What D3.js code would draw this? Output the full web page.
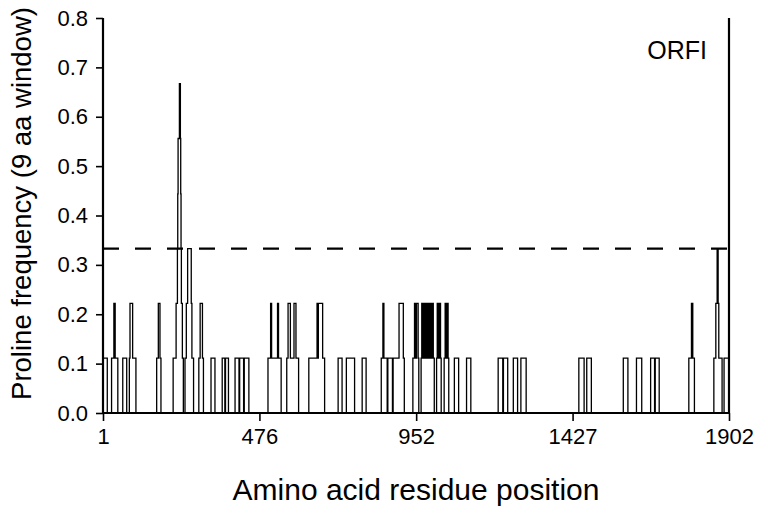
<!DOCTYPE html>
<html>
<head>
<meta charset="utf-8">
<script src="https://cdn.jsdelivr.net/npm/d3@7/dist/d3.min.js"></script>
<style>
  html, body { margin: 0; padding: 0; background: #fff; }
  svg { display: block; font-family: "Liberation Sans", Arial, sans-serif; }
</style>
</head>
<body>
<svg id="chart" width="759" height="515"></svg>
<script>
// ---- data ----
const xTickValues = [1, 476, 952, 1427, 1902];
const yTickValues = [0, 0.1, 0.2, 0.3, 0.4, 0.5, 0.6, 0.7, 0.8];
const threshold = 0.333;
const label = "ORFI";
// residue position where the value starts, and the proline frequency from there on
const stepPos = [
  1, 14, 27, 34, 38, 46, 61, 73, 81, 83, 91, 101,
  164, 169, 174, 177, 214, 223, 227, 228, 229, 233, 236, 237, 238, 239, 242, 245,
  250, 254, 258, 269, 271, 276, 292, 296, 303, 306, 329, 341,
  363, 371, 373, 382, 402, 414, 416, 428, 430, 444,
  502, 510, 513, 531, 534, 542, 559, 563, 570, 581, 587, 595,
  626, 651, 653, 655, 668, 674, 715, 727, 740, 765, 788, 800,
  846, 851, 854, 864, 866, 880, 882, 900, 913, 916,
  942, 947, 950, 953, 958, 960, 967, 969, 972, 974, 977, 979, 982, 984, 987, 989,
  992, 995, 998, 1000, 1004, 1007, 1014, 1016, 1020, 1022, 1026, 1028,
  1037, 1040, 1044, 1046, 1049, 1051, 1068, 1081, 1105, 1118,
  1201, 1215, 1217, 1230, 1247, 1260, 1270, 1286, 1446, 1462, 1470, 1484,
  1581, 1595, 1621, 1637, 1664, 1676, 1678, 1690,
  1780, 1788, 1792, 1797, 1856, 1862, 1866, 1869, 1871, 1881, 1887, 1902
];
const stepFreq = [
  0.111, 0, 0.111, 0.222, 0.111, 0, 0.111, 0, 0.111, 0.222, 0.111, 0,
  0.111, 0.222, 0.111, 0, 0.111, 0.222, 0.333, 0.444, 0.556, 0.667, 0.556, 0.444, 0.333, 0.222, 0.111, 0,
  0.111, 0.222, 0.333, 0.222, 0.111, 0, 0.111, 0.222, 0.111, 0, 0.111, 0,
  0.111, 0, 0.111, 0, 0.111, 0, 0.111, 0, 0.111, 0,
  0.111, 0.222, 0.111, 0.222, 0.111, 0, 0.111, 0.222, 0.111, 0.222, 0.111, 0,
  0.111, 0.222, 0.111, 0.222, 0.111, 0, 0.111, 0, 0.111, 0, 0.111, 0,
  0.111, 0.222, 0.111, 0, 0.111, 0, 0.111, 0.222, 0.111, 0,
  0.111, 0.222, 0.111, 0.222, 0.111, 0, 0.111, 0.222, 0.111, 0.222, 0.111, 0.222, 0.111, 0.222, 0.111, 0.222,
  0.111, 0.222, 0.111, 0.222, 0.111, 0, 0.111, 0.222, 0.111, 0.222, 0.111, 0,
  0.111, 0.222, 0.111, 0.222, 0.111, 0, 0.111, 0, 0.111, 0,
  0.111, 0, 0.111, 0, 0.111, 0, 0.111, 0, 0.111, 0, 0.111, 0,
  0.111, 0, 0.111, 0, 0.111, 0, 0.111, 0,
  0.111, 0.222, 0.111, 0, 0.111, 0.222, 0.333, 0.222, 0.111, 0, 0.111, 0.111
];

// ---- layout ----
const svg = d3.select("#chart");
const margin = { left: 103, right: 30, top: 18, bottom: 102 };
const W = 759, H = 515;
const x = d3.scaleLinear().domain([1, 1902]).range([margin.left, W - margin.right]);
const y = d3.scaleLinear().domain([0, 0.8]).range([H - margin.bottom, margin.top]);

const series = stepPos.map((p, i) => ({ pos: p, freq: stepFreq[i] }));

// data line
svg.append("path")
  .datum(series)
  .attr("fill", "none")
  .attr("stroke", "#000")
  .attr("stroke-width", 1.3)
  .attr("d", d3.line().x(d => x(d.pos)).y(d => y(d.freq)).curve(d3.curveStepAfter));

// threshold dashed line
svg.append("line")
  .attr("x1", x(1)).attr("x2", x(1902))
  .attr("y1", y(threshold)).attr("y2", y(threshold))
  .attr("stroke", "#000").attr("stroke-width", 2.2)
  .attr("stroke-dasharray", "16,16");

// axes
const yAxis = d3.axisLeft(y).tickValues(yTickValues).tickFormat(d3.format(".1f")).tickSize(7).tickPadding(8);
const xAxis = d3.axisBottom(x).tickValues(xTickValues).tickFormat(d3.format("d")).tickSize(8).tickPadding(7);

const gy = svg.append("g").attr("transform", `translate(${margin.left},0)`).call(yAxis);
const gx = svg.append("g").attr("transform", `translate(0,${H - margin.bottom})`).call(xAxis);
[gx, gy].forEach(g => {
  g.select(".domain").attr("stroke-width", 2.2);
  g.selectAll(".tick line").attr("stroke-width", 1.6);
  g.selectAll(".tick text").attr("font-size", 22).attr("font-family", "Liberation Sans, Arial, sans-serif").attr("fill", "#000");
});
gy.select(".domain").attr("d", `M0,${margin.top}V${H - margin.bottom}`);
gx.select(".domain").attr("d", `M${margin.left},0H${W - margin.right}`);

// right frame line
svg.append("line")
  .attr("x1", x(1902)).attr("x2", x(1902))
  .attr("y1", y(0.8)).attr("y2", y(0))
  .attr("stroke", "#000").attr("stroke-width", 2.2);

// titles
svg.append("text")
  .attr("x", (x(1) + x(1902)) / 2).attr("y", 500)
  .attr("text-anchor", "middle").attr("font-size", 30)
  .text("Amino acid residue position");

svg.append("text")
  .attr("transform", `translate(31,${(y(0) + y(0.8)) / 2 - 12}) rotate(-90)`)
  .attr("text-anchor", "middle").attr("font-size", 27.5)
  .text("Proline frequency (9 aa window)");

svg.append("text")
  .attr("x", 707).attr("y", 59)
  .attr("text-anchor", "end").attr("font-size", 25)
  .text(label);
</script>
</body>
</html>
